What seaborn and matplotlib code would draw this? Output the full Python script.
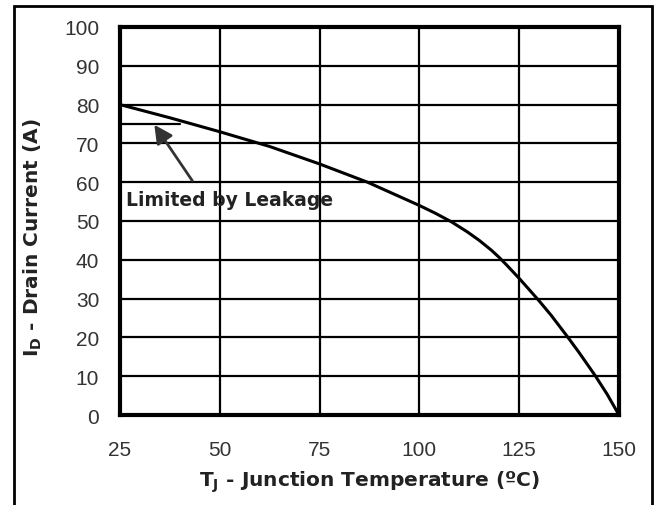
import matplotlib
matplotlib.use("Agg")
import numpy as np
import pandas as pd
import seaborn as sns
import matplotlib.pyplot as plt
from matplotlib.patches import Rectangle

# -------------------- Data --------------------

# derating curve
temp_c = [25, 37.5, 50, 62.5, 75, 87, 100, 104, 108, 112, 115, 118, 120, 122,
          125, 127, 130, 133, 137, 140, 144, 147, 150]
drain_a = [80, 76.6, 73, 69.2, 64.7, 60, 54, 52, 49.8, 47.2, 45, 42.5, 40.6, 38.5,
           35.2, 32.9, 29.4, 25.7, 20.3, 16.1, 10.2, 5.4, 0]

# short "limited by leakage" line at 75 A
leak_temp = [25, 40]
leak_a = [75, 75]

x_ticks = [25, 50, 75, 100, 125, 150]
y_ticks = [0, 10, 20, 30, 40, 50, 60, 70, 80, 90, 100]

note_text = "Limited by Leakage"
note_pos = (26.6, 55.6)
arrow_tail = (43.1, 60.4)
arrow_tip = (33.6, 74.8)

df = pd.DataFrame({"temp": temp_c, "current": drain_a})

# -------------------- Plot --------------------

sns.set_theme(style="white")
plt.rcParams["font.family"] = ["DejaVu Sans"]
plt.rcParams["mathtext.fontset"] = "dejavusans"

fig = plt.figure(figsize=(6.61, 5.06), dpi=100)
ax = fig.add_axes([120 / 661, 1 - 416 / 506, 499 / 661, 388 / 506])

ax.set_xlim(25, 150)
ax.set_ylim(0, 100)
ax.set_xticks(x_ticks)
ax.set_yticks(y_ticks)
ax.grid(True, color="black", linewidth=1.6)
ax.set_axisbelow(True)
for sp in ax.spines.values():
    sp.set_visible(True)
    sp.set_color("black")
    sp.set_linewidth(3)

sns.lineplot(data=df, x="temp", y="current", color="black", linewidth=2.2, ax=ax, sort=False)
ax.plot(leak_temp, leak_a, color="black", linewidth=1.6)

ax.annotate("", xy=arrow_tip, xytext=arrow_tail,
            arrowprops=dict(arrowstyle="-|>,head_length=0.55,head_width=0.28",
                            color="#333333", lw=2, mutation_scale=20,
                            shrinkA=0, shrinkB=0))
ax.text(note_pos[0], note_pos[1], note_text, ha="left", va="center",
        fontsize=13.5, fontweight="bold", color="#222222")

ax.tick_params(axis="both", length=0, labelsize=15, labelcolor="#333333")
ax.tick_params(axis="x", pad=18)
ax.tick_params(axis="y", pad=15)
for lbl in ax.get_xticklabels() + ax.get_yticklabels():
    lbl.set_family(["Liberation Sans", "DejaVu Sans"])

ax.set_xlabel(r"T$_{\mathbf{J}}$ - Junction Temperature (ºC)",
              fontsize=14.5, fontweight="bold", color="#222222")
ax.set_ylabel(r"I$_{\mathbf{D}}$ - Drain Current (A)",
              fontsize=14.5, fontweight="bold", color="#222222")
ax.xaxis.set_label_coords(0.5, -0.139)
ax.yaxis.set_label_coords(-0.152, 0.46)

# outer frame around the whole figure
fig.patches.append(Rectangle((14 / 661, -0.05), (652 - 14) / 661, 1.05 - 7 / 506,
                             transform=fig.transFigure, fill=False,
                             edgecolor="black", linewidth=2, clip_on=False))

fig.savefig("out.png", dpi=100, facecolor="white")
